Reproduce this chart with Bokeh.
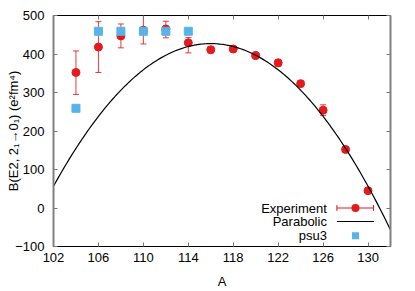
from bokeh.plotting import figure
from bokeh.models import (LinearAxis, FixedTicker, Range1d, Label, BoxAnnotation,
                          ColumnDataSource)
from bokeh.embed import file_html
from bokeh.resources import INLINE
import numpy as np

# ---- data ----
exp_A = [104, 106, 108, 110, 112, 114, 116, 118, 120, 122, 124, 126, 128, 130]
exp_B = [352, 418, 447, 462, 465, 429, 411, 413, 396, 377, 323, 254, 152, 45]
exp_lo = [295, 352, 416, 426, 442, 403, 403, 406, 390, 368, 316, 240, 146, 38]
exp_hi = [408, 484, 478, 500, 485, 443, 419, 420, 402, 386, 330, 268, 158, 52]

psu3_A = [104, 106, 108, 110, 112, 114]
psu3_B = [259, 459, 459, 459, 459, 459]

# parabolic fit parameters: B = peak - curv * (A - A0)^2
par_peak = 427.0
par_A0 = 116.0
par_curv = 1.89

x_ticks = [102, 106, 110, 114, 118, 122, 126, 130]
y_ticks = [-100, 0, 100, 200, 300, 400, 500]

legend_labels = ["Experiment", "Parabolic", "psu3"]

RED = "#e41a1c"
BLUE = "#56b4e9"
FONT = "Liberation Sans"
FS = "13px"
TICK_COL = "#777777"

p = figure(width=415, height=291, output_backend="svg", toolbar_location=None,
           x_range=Range1d(102, 132), y_range=Range1d(-100, 500),
           x_axis_label="A", y_axis_label="B(E2, 2\u2081\u21920\u2081) (e\u00b2fm\u2074)",
           min_border_left=53, min_border_right=25, min_border_top=15, min_border_bottom=44)
p.grid.visible = False
p.outline_line_color = None
p.background_fill_color = "white"
p.border_fill_color = "white"

for ax, ticks in ((p.xaxis[0], x_ticks), (p.yaxis[0], y_ticks)):
    ax.ticker = FixedTicker(ticks=ticks)
    ax.major_tick_in = 4
    ax.major_tick_out = 0
    ax.minor_tick_line_color = None
    ax.major_label_text_font = FONT
    ax.major_label_text_font_size = FS
    ax.major_label_text_color = "black"
    ax.axis_label_text_font = FONT
    ax.axis_label_text_font_size = FS
    ax.axis_label_text_font_style = "normal"
    ax.axis_label_text_color = "black"
    ax.major_tick_line_color = TICK_COL
p.xaxis[0].axis_line_color = "black"
p.xaxis[0].major_label_standoff = 6
p.xaxis[0].axis_label_standoff = 9
p.yaxis[0].axis_line_color = "#808080"
p.yaxis[0].axis_line_width = 2
p.yaxis[0].major_label_standoff = 9
p.yaxis[0].axis_label_standoff = -9

top = LinearAxis(ticker=FixedTicker(ticks=x_ticks), major_tick_in=4, major_tick_out=0,
                 minor_tick_line_color=None, major_label_text_color=None,
                 major_label_text_font_size="1px", major_label_standoff=0,
                 axis_line_color="black", major_tick_line_color=TICK_COL)
right = LinearAxis(ticker=FixedTicker(ticks=y_ticks), major_tick_in=4, major_tick_out=0,
                   minor_tick_line_color=None, major_label_text_color=None,
                   major_label_text_font_size="1px", major_label_standoff=0,
                   axis_line_color="#808080", axis_line_width=2,
                   major_tick_line_color=TICK_COL)
p.add_layout(top, "above")
p.add_layout(right, "right")

# experiment with error bars
src = ColumnDataSource(dict(A=exp_A, B=exp_B, lo=exp_lo, hi=exp_hi))
p.segment(x0="A", y0="lo", x1="A", y1="hi", source=src, line_color=RED,
          line_width=1, line_alpha=0.85)
p.scatter(x="A", y="lo", source=src, marker="dash", size=6, line_color=RED,
          line_width=1, line_alpha=0.85)
p.scatter(x="A", y="hi", source=src, marker="dash", size=6, line_color=RED,
          line_width=1, line_alpha=0.85)
p.scatter(x="A", y="B", source=src, marker="circle", size=8,
          fill_color=RED, line_color=RED)

# parabolic curve
xs = np.linspace(102, 132, 200)
ys = par_peak - par_curv * (xs - par_A0) ** 2
p.line(xs, ys, line_color="black", line_width=1.2)

# psu3
p.scatter(psu3_A, psu3_B, marker="square", size=8, fill_color=BLUE, line_color=BLUE)

# ---- key (gnuplot style: text right-aligned, sample to the right) ----
def sbox(l, r, b, t, color, radius=0):
    p.add_layout(BoxAnnotation(left=l, right=r, bottom=b, top=t,
                               left_units="screen", right_units="screen",
                               bottom_units="screen", top_units="screen",
                               fill_color=color, fill_alpha=1, line_color=None,
                               border_radius=radius, editable=False))

row_y = [38.4, 25.0, 10.7]
sx0, sx1, sxc = 283.4, 320.0, 302.0
# experiment sample
sbox(sx0, sx1, row_y[0] - 0.5, row_y[0] + 0.5, RED)
sbox(sx0 - 0.5, sx0 + 0.5, row_y[0] - 3, row_y[0] + 3, RED)
sbox(sx1 - 0.5, sx1 + 0.5, row_y[0] - 3, row_y[0] + 3, RED)
sbox(sxc - 4, sxc + 4, row_y[0] - 4, row_y[0] + 4, RED, radius=4)
# parabolic sample
sbox(sx0, sx1 + 0.5, row_y[1] - 0.6, row_y[1] + 0.6, "black")
# psu3 sample
sbox(sxc - 3.5, sxc + 3.5, row_y[2] - 3.5, row_y[2] + 3.5, BLUE)

for txt, yy in zip(legend_labels, row_y):
    p.add_layout(Label(x=273.4, y=yy, x_units="screen", y_units="screen", text=txt,
                       text_align="right", text_baseline="middle",
                       text_font=FONT, text_font_size=FS, text_color="black"))

open("out.html", "w").write(file_html(p, INLINE))
